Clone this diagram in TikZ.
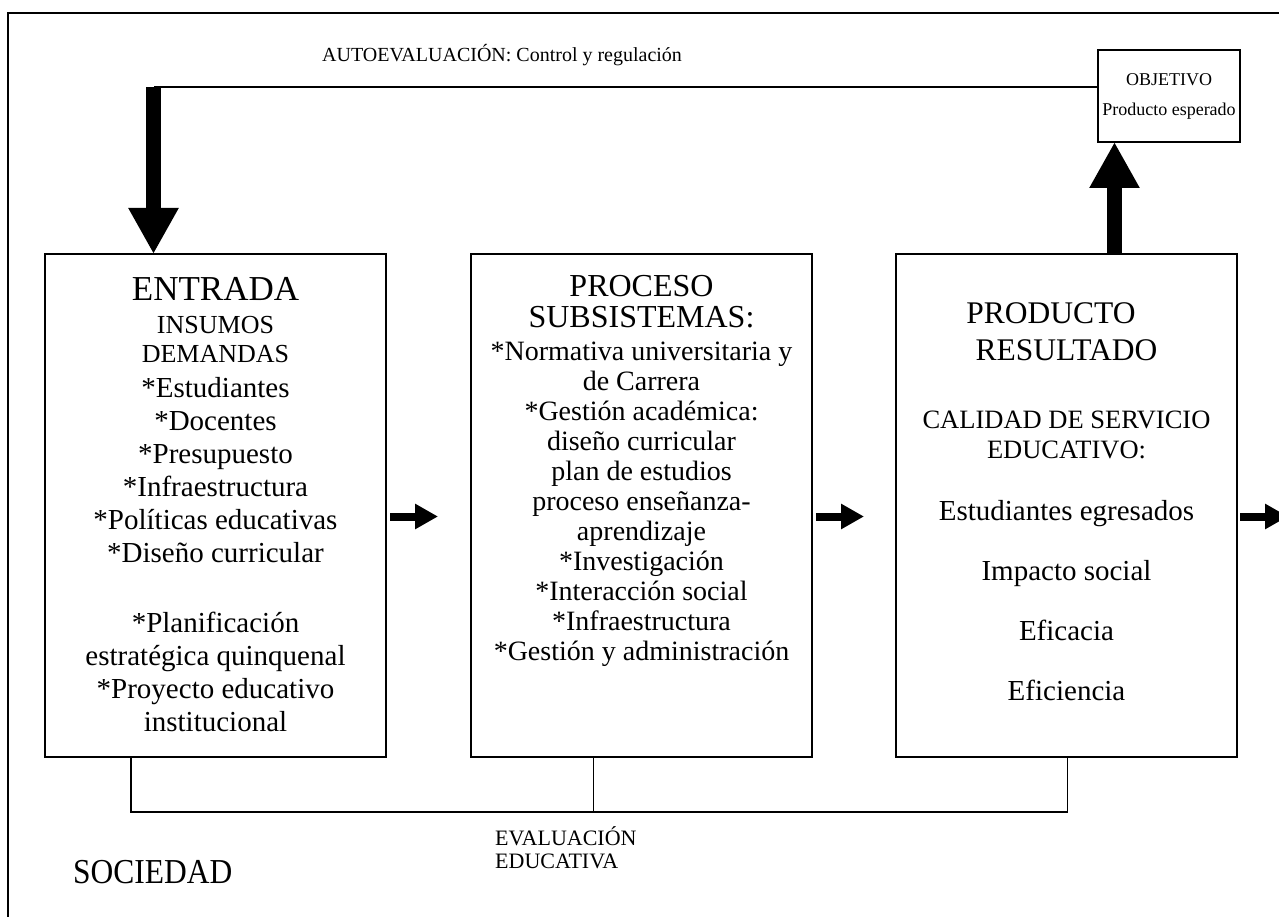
\documentclass[tikz,border=0pt]{standalone}
\usepackage{fontspec}
\setmainfont{Liberation Serif}
\usetikzlibrary{positioning,arrows.meta}

\begin{document}
\begin{tikzpicture}[x=1pt,y=1pt,
  box/.style={draw,line width=1.6pt,minimum width=341pt,minimum height=503pt,inner sep=0pt,outer sep=0pt},
  txt/.style={align=center,inner sep=0pt,anchor=north},
  bigarrow/.style={line width=15pt,-{Triangle[length=46pt,width=47pt]}},
  smallarrow/.style={line width=8pt,-{Triangle[length=23pt,width=24pt]}},
  link/.style={line width=1.3pt}]
\useasboundingbox (0,0) rectangle (1279,-917);
\draw[link] (8,-940) -- (8,-13) -- (1300,-13);

\node[box] (entrada) at (215.5,-505.5) {};
\node[box,right=85pt of entrada] (proceso) {};
\node[box,right=84pt of proceso] (producto) {};
\node[draw,link,minimum width=142pt,minimum height=92pt,inner sep=0pt,outer sep=0pt,align=center,
  font=\fontsize{18}{30}\selectfont] (objetivo) at (1169,-96) {OBJETIVO\\Producto esperado};

\node[txt,font=\fontsize{29}{33}\selectfont] (entradatxt) [below=23pt of entrada.north] {%
  {\fontsize{35}{35}\selectfont ENTRADA}\\
  {\fontsize{26}{26}\selectfont INSUMOS}\\[-4pt]
  {\fontsize{26}{26}\selectfont DEMANDAS}\\[2pt]
  {*}Estudiantes\\{*}Docentes\\{*}Presupuesto\\{*}Infraestructura\\
  {*}Políticas educativas\\{*}Diseño curricular\\[37pt]
  {*}Planificación\\estratégica quinquenal\\{*}Proyecto educativo\\institucional};

\node[txt,font=\fontsize{28}{30}\selectfont] (procesotxt) [below=21pt of proceso.north] {%
  {\fontsize{32}{32}\selectfont PROCESO}\\[1pt]
  {\fontsize{32}{32}\selectfont SUBSISTEMAS:}\\[3pt]
  {*}Normativa universitaria y\\de Carrera\\{*}Gestión académica:\\diseño curricular\\
  plan de estudios\\proceso enseñanza-\\aprendizaje\\{*}Investigación\\
  {*}Interacción social\\{*}Infraestructura\\{*}Gestión y administración};

\node[txt,font=\fontsize{26.5}{30}\selectfont] (productotxt) [below=48pt of producto.north] {%
  {\fontsize{31.5}{31.5}\selectfont PRODUCTO\hspace*{31pt}}\\[7pt]
  {\fontsize{31.5}{31.5}\selectfont RESULTADO}\\[38pt]
  CALIDAD DE SERVICIO\\EDUCATIVO:\\[32pt]
  {\fontsize{29}{29}\selectfont Estudiantes egresados}\\[30pt]
  {\fontsize{29}{29}\selectfont Impacto social}\\[30pt]
  {\fontsize{29}{29}\selectfont Eficacia}\\[30pt]
  {\fontsize{29}{29}\selectfont Eficiencia}};

\node[anchor=base west,inner sep=0pt,font=\fontsize{20}{20}\selectfont] (autoeval) at (322,-62)
  {AUTOEVALUACIÓN: Control y regulación};
\node[anchor=base west,inner sep=0pt,font=\fontsize{35}{35}\selectfont] (sociedad) at (73,-883)
  {\scalebox{0.9}[1]{SOCIEDAD}};
\node[anchor=north west,align=left,inner sep=0pt,font=\fontsize{22}{23}\selectfont] (evaluacion) at (495,-826)
  {EVALUACIÓN\\EDUCATIVA};

\coordinate (vuelta) at ([xshift=-62pt]entrada.north |- 0,-87);
\draw[link] (vuelta -| objetivo.west) -- (vuelta);
\draw[bigarrow] (vuelta) -- (entrada.north -| vuelta);
\draw[bigarrow] ([xshift=48pt]producto.north) -- ([xshift=48pt]producto.north |- objetivo.south);

\draw[smallarrow] ([xshift=4pt,yshift=-11pt]entrada.east) -- ++(48,0);
\draw[smallarrow] ([xshift=4pt,yshift=-11pt]proceso.east) -- ++(48,0);
\draw[smallarrow] ([xshift=3pt,yshift=-11pt]producto.east) -- ++(48,0);

\draw[link] ([xshift=-84.5pt]entrada.south) -- ++(0,-55) -| ([xshift=1pt]producto.south);
\draw[link] ([xshift=-48pt]proceso.south) -- ++(0,-55);
\end{tikzpicture}
\end{document}
